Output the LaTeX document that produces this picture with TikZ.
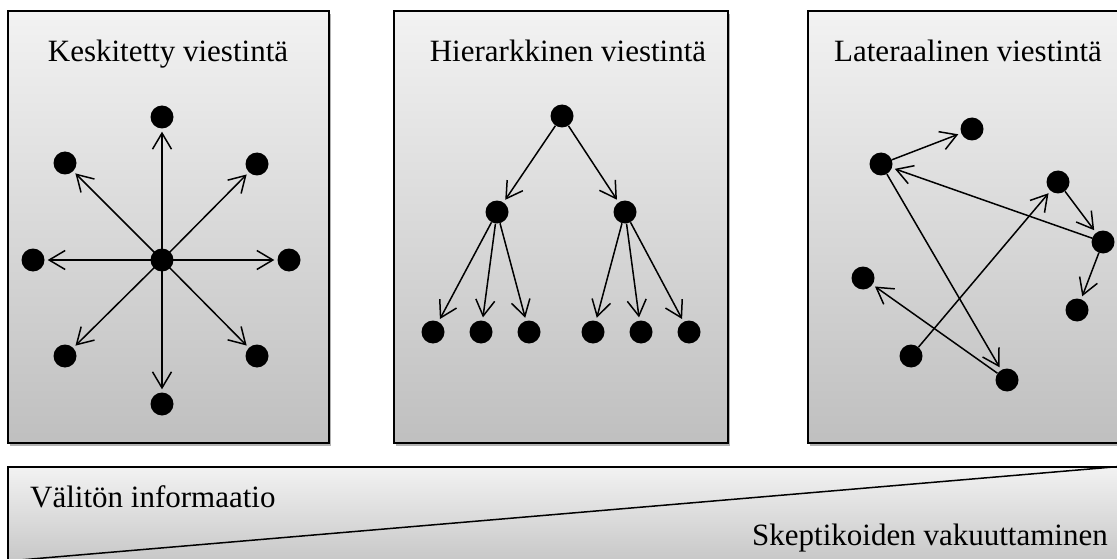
\documentclass[tikz,border=0pt]{standalone}
\usepackage{fontspec}
\setmainfont{Liberation Serif}
\usetikzlibrary{arrows.meta,shadows}

\begin{document}
\begin{tikzpicture}[x=1pt,y=-1pt,
  panel/.style={draw=black, line width=1.3pt, top color=black!5, bottom color=black!25,
    drop shadow={shadow xshift=2pt, shadow yshift=-3pt, opacity=0.3, fill=black}},
  bar/.style={draw=black, line width=1.3pt, top color=black!5, bottom color=black!22},
  title/.style={anchor=base, inner sep=0pt, font=\fontsize{31}{36}\selectfont},
  dot/.style={circle, fill=black, inner sep=0pt, minimum size=23pt},
  arr/.style={line width=1.5pt, -{Straight Barb[length=16pt,width=19pt]}, shorten >=3pt}]

\clip (0,0) rectangle (1117,559);

% three panels
\path[panel] (8,11) rectangle (329,443);
\path[panel] (394,11) rectangle (728,443);
\path[panel] (808,11) rectangle (1150,443);

\node[title] (t1) at (168,62) {Keskitetty viestintä};
\node[title] (t2) at (568,62) {Hierarkkinen viestintä};
\node[title] (t3) at (968,62) {Lateraalinen viestintä};

% centralised communication
\node[dot] (c)  at (162,260) {};
\node[dot] (n)  at (162,117) {};
\node[dot] (nw) at (65,163) {};
\node[dot] (ne) at (257,164) {};
\node[dot] (w)  at (33,260) {};
\node[dot] (e)  at (289,260) {};
\node[dot] (sw) at (65,356) {};
\node[dot] (se) at (257,356) {};
\node[dot] (s)  at (162,404) {};
\foreach \t in {n,nw,ne,w,e,sw,se,s}
  \draw[arr] (c.center) -- (\t);

% hierarchical communication
\node[dot] (r)  at (562,116) {};
\node[dot] (ml) at (497,212) {};
\node[dot] (mr) at (625,212) {};
\node[dot] (l1) at (433,332) {};
\node[dot] (l2) at (481,332) {};
\node[dot] (l3) at (529,332) {};
\node[dot] (l4) at (593,332) {};
\node[dot] (l5) at (641,332) {};
\node[dot] (l6) at (689,332) {};
\draw[arr] (r) -- (ml);
\draw[arr] (r) -- (mr);
\foreach \t in {l1,l2,l3}
  \draw[arr] (ml) -- (\t);
\foreach \t in {l4,l5,l6}
  \draw[arr] (mr) -- (\t);

% lateral communication
\node[dot] (A) at (881,164) {};
\node[dot] (B) at (972,129) {};
\node[dot] (C) at (1058,182) {};
\node[dot] (D) at (1103,242) {};
\node[dot] (E) at (1077,310) {};
\node[dot] (F) at (863,278) {};
\node[dot] (G) at (911,356) {};
\node[dot] (H) at (1007,380) {};
\draw[arr] (A) -- (B);
\draw[arr] (D) -- (A);
\draw[arr] (A) -- (H);
\draw[arr] (G) -- (C);
\draw[arr] (C) -- (D);
\draw[arr] (D) -- (E);
\draw[arr] (H) -- (F);

% bottom scale bar
\path[bar] (8,467) rectangle (1125,562);
\coordinate (bl) at (8,561);
\coordinate (tr) at (1125,466);
\draw[line width=1.5pt] (bl) -- (tr);
\node[anchor=base west, inner sep=0pt, font=\fontsize{31}{36}\selectfont] (lo) at (30,507) {Välitön informaatio};
\node[anchor=base east, inner sep=0pt, font=\fontsize{31}{36}\selectfont] (hi) at (1108,545) {Skeptikoiden vakuuttaminen};
\end{tikzpicture}
\end{document}
